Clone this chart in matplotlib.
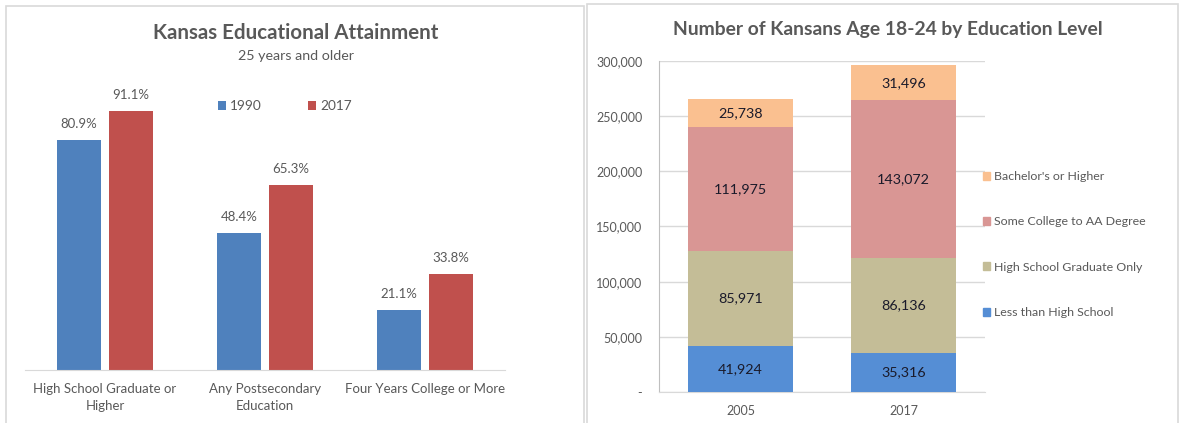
import numpy as np
import matplotlib.pyplot as plt
from matplotlib.patches import Rectangle, Patch

plt.rcParams['font.family'] = ['Lato', 'DejaVu Sans']

# left chart data
attain_cats = ['High School Graduate or\nHigher', 'Any Postsecondary\nEducation', 'Four Years College or More']
pct_1990 = [80.9, 48.4, 21.1]
pct_2017 = [91.1, 65.3, 33.8]

# right chart data
years = ['2005', '2017']
levels = ['Less than High School', 'High School Graduate Only',
          'Some College to AA Degree', "Bachelor's or Higher"]
less_hs = [41924, 35316]
hs_only = [85971, 86136]
some_college = [111975, 143072]
bachelors = [25738, 31496]

W, H = 1182, 423
fig = plt.figure(figsize=(W / 100, H / 100), dpi=100)


def px_axes(x0, y_top, x1, y_bot):
    return fig.add_axes([x0 / W, 1 - y_bot / H, (x1 - x0) / W, (y_bot - y_top) / H])


# panel borders
fig.patches.append(Rectangle((6 / W, -0.1), 578 / W, 1.1 - 6 / H, transform=fig.transFigure,
                             fill=False, edgecolor='#D9D9D9', lw=1.2))
fig.patches.append(Rectangle((587 / W, -0.1), 0.5, 1.1 - 4 / H, transform=fig.transFigure,
                             fill=False, edgecolor='#D9D9D9', lw=1.2))

text_col = '#595959'

# ---- left chart ----
ax1 = px_axes(25, 86, 505, 370)
x = np.arange(len(attain_cats))
bw = 0.27
off = 0.163
b1 = ax1.bar(x - off, pct_1990, bw, color='#4F81BD', label='1990')
b2 = ax1.bar(x + off, pct_2017, bw, color='#C0504D', label='2017')
for bars, vals in ((b1, pct_1990), (b2, pct_2017)):
    for b, v in zip(bars, vals):
        ax1.text(b.get_x() + b.get_width() / 2, v + 3.5, f'{v:.1f}%', ha='center', va='bottom',
                 fontsize=9.5, color=text_col)
ax1.set_xlim(-0.5, 2.5)
ax1.set_ylim(0, 100)
ax1.set_yticks([])
ax1.set_xticks(x)
ax1.set_xticklabels(attain_cats, fontsize=9.5, color=text_col, linespacing=1.5)
ax1.tick_params(axis='x', length=0, pad=9)
for s in ['top', 'right', 'left']:
    ax1.spines[s].set_visible(False)
ax1.spines['bottom'].set_color('#D9D9D9')
ax1.legend(loc='center', bbox_to_anchor=(285 / W, 1 - 106 / H), bbox_transform=fig.transFigure,
           ncol=2, frameon=False, fontsize=9.8, handlelength=0.6, handleheight=0.6,
           handletextpad=0.3, columnspacing=3.4, labelcolor=text_col)
fig.text(296 / W, 1 - 33 / H, 'Kansas Educational Attainment', ha='center', va='center',
         fontsize=14.8, fontweight='bold', color=text_col)
fig.text(296 / W, 1 - 56 / H, '25 years and older', ha='center', va='center',
         fontsize=10.3, color=text_col)

# ---- right chart ----
ax2 = px_axes(659, 61, 985, 392)
xr = np.arange(len(years))
series = [less_hs, hs_only, some_college, bachelors]
colors = ['#558ED5', '#C4BD97', '#D99694', '#FAC090']
bottom = np.zeros(len(years))
handles = []
for vals, col, name in zip(series, colors, levels):
    bars = ax2.bar(xr, vals, 0.65, bottom=bottom, color=col, label=name, zorder=3)
    for b, v, bt in zip(bars, vals, bottom):
        ax2.text(b.get_x() + b.get_width() / 2, bt + v / 2, f'{v:,}', ha='center', va='center',
                 fontsize=10.3, color='#1a1a2a', zorder=4)
    bottom = bottom + np.array(vals)
    handles.append(Patch(color=col, label=name))
ax2.set_xlim(-0.5, 1.5)
ax2.set_ylim(0, 300000)
ax2.set_yticks(np.arange(0, 300001, 50000))
ax2.set_yticklabels(['-'] + [f'{v:,}' for v in range(50000, 300001, 50000)])
ax2.tick_params(axis='y', length=0, labelsize=9, labelcolor=text_col, pad=12)
ax2.set_xticks(xr)
ax2.set_xticklabels(years)
ax2.tick_params(axis='x', length=0, labelsize=9, labelcolor=text_col, pad=9)
ax2.grid(axis='y', color='#D9D9D9', lw=1, zorder=0)
for s in ['top', 'right']:
    ax2.spines[s].set_visible(False)
ax2.spines['left'].set_color('#BFBFBF')
ax2.spines['bottom'].set_color('#D9D9D9')
fig.legend(handles=handles[::-1], loc='upper left', bbox_to_anchor=(983 / W, 1 - 171 / H),
           frameon=False, fontsize=8.9, handlelength=0.6, handleheight=0.6,
           handletextpad=0.3, labelspacing=2.78, labelcolor=text_col, borderpad=0, borderaxespad=0)
fig.text(888 / W, 1 - 30 / H, 'Number of Kansans Age 18-24 by Education Level', ha='center',
         va='center', fontsize=13.9, fontweight='bold', color=text_col)

fig.savefig('out.png', dpi=100)
